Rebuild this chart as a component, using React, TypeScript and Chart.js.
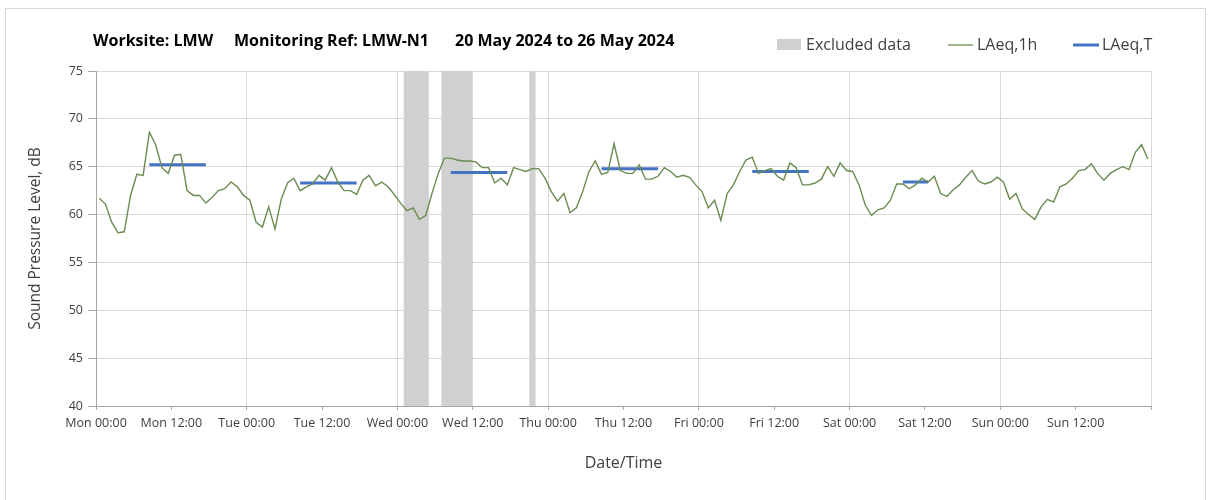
import React, { useEffect, useRef } from "react";
import { Chart, registerables } from "chart.js";

Chart.register(...registerables);

const FONT = "'Open Sans', sans-serif";
const GREEN = "#6a8b52";
const BLUE = "#4472C4";
const BAND = "#d0d0d0";
const TEXT = "#404040";

const titleParts = ["Worksite: LMW", "Monitoring Ref: LMW-N1", "20 May 2024 to 26 May 2024"];

const xTickLabels = [
  "Mon 00:00", "Mon 12:00", "Tue 00:00", "Tue 12:00", "Wed 00:00", "Wed 12:00",
  "Thu 00:00", "Thu 12:00", "Fri 00:00", "Fri 12:00", "Sat 00:00", "Sat 12:00",
  "Sun 00:00", "Sun 12:00", "",
];

// Hourly LAeq,1h (hour index 0 = Mon 00:00-01:00)
const laeq1hMon = [61.7, 61.1, 59.2, 58.1, 58.2, 62.0, 64.2, 64.1, 68.6, 67.3, 64.9, 64.3, 66.2, 66.3, 62.5, 62.0, 62.0, 61.2, 61.8, 62.5, 62.7, 63.4, 62.9, 62.0];
const laeq1hTue = [61.5, 59.2, 58.7, 60.8, 58.5, 61.6, 63.3, 63.8, 62.5, 62.9, 63.2, 64.1, 63.6, 64.9, 63.4, 62.5, 62.5, 62.1, 63.6, 64.1, 63.0, 63.4, 62.9, 62.1];
const laeq1hWed = [61.2, 60.4, 60.7, 59.5, 59.9, 62.2, 64.3, 65.9, 65.9, 65.7, 65.6, 65.6, 65.5, 64.9, 64.9, 63.3, 63.8, 63.1, 64.9, 64.7, 64.5, 64.8, 64.8, 63.8];
const laeq1hThu = [62.4, 61.4, 62.2, 60.2, 60.7, 62.4, 64.5, 65.6, 64.2, 64.4, 67.4, 64.6, 64.3, 64.3, 65.2, 63.7, 63.7, 64.0, 64.9, 64.5, 63.9, 64.1, 63.9, 63.1];
const laeq1hFri = [62.4, 60.7, 61.5, 59.4, 62.2, 63.1, 64.5, 65.7, 66.0, 64.3, 64.6, 64.8, 64.0, 63.6, 65.4, 64.9, 63.1, 63.1, 63.3, 63.7, 65.0, 64.0, 65.4, 64.6];
const laeq1hSat = [64.5, 63.1, 61.0, 59.9, 60.5, 60.7, 61.5, 63.2, 63.2, 62.7, 63.1, 63.8, 63.4, 64.0, 62.2, 61.9, 62.6, 63.1, 63.9, 64.6, 63.5, 63.2, 63.4, 63.9];
const laeq1hSun = [63.4, 61.6, 62.2, 60.6, 60.0, 59.5, 60.8, 61.6, 61.3, 62.9, 63.2, 63.8, 64.6, 64.7, 65.3, 64.3, 63.6, 64.3, 64.7, 65.0, 64.7, 66.5, 67.3, 65.8];
const laeq1h = [...laeq1hMon, ...laeq1hTue, ...laeq1hWed, ...laeq1hThu, ...laeq1hFri, ...laeq1hSat, ...laeq1hSun];

// LAeq,T daytime periods (first hour, last hour, level)
const laeqTStart = [8, 32, 56, 80, 104, 128];
const laeqTEnd = [17, 41, 65, 89, 113, 132];
const laeqTValue = [65.2, 63.3, 64.4, 64.8, 64.5, 63.4];

// Excluded data periods (hours from Mon 00:00)
const excludedStart = [49, 55, 69];
const excludedEnd = [53, 60, 70];

const bandsPlugin = {
  id: "bands",
  beforeDatasetsDraw(chart: any) {
    const { ctx, chartArea, scales } = chart;
    const x = scales.x;
    ctx.save();
    ctx.fillStyle = BAND;
    excludedStart.forEach((s, i) => {
      const x0 = x.getPixelForValue(s);
      const x1 = x.getPixelForValue(excludedEnd[i]);
      ctx.fillRect(x0, chartArea.top, x1 - x0, chartArea.bottom - chartArea.top);
    });
    ctx.restore();
  },
};

const headerPlugin = {
  id: "header",
  afterDraw(chart: any) {
    const ctx = chart.ctx;
    ctx.save();
    ctx.textBaseline = "middle";
    ctx.textAlign = "left";
    // title
    ctx.fillStyle = "#000";
    ctx.font = `bold 16px ${FONT}`;
    const titleX = [93, 234, 455];
    titleParts.forEach((t, i) => ctx.fillText(t, titleX[i], 41));
    // legend
    const ly = 45;
    ctx.font = `16px ${FONT}`;
    ctx.fillStyle = BAND;
    ctx.fillRect(777, 39, 24, 11);
    ctx.fillStyle = TEXT;
    ctx.fillText("Excluded data", 806, ly);
    ctx.strokeStyle = GREEN;
    ctx.lineWidth = 1.3;
    ctx.beginPath();
    ctx.moveTo(948, ly);
    ctx.lineTo(973, ly);
    ctx.stroke();
    ctx.fillText(chart.data.datasets[0].label, 977, ly);
    ctx.strokeStyle = BLUE;
    ctx.lineWidth = 3;
    ctx.beginPath();
    ctx.moveTo(1073, ly);
    ctx.lineTo(1099, ly);
    ctx.stroke();
    ctx.fillText(chart.data.datasets[1].label, 1102, ly);
    ctx.restore();
  },
};

export default function App() {
  const ref = useRef<HTMLCanvasElement>(null);
  useEffect(() => {
    const canvas = ref.current!;
    const lineData = laeq1h.map((v, i) => ({ x: i + 0.5, y: v }));
    const tData: any[] = [];
    laeqTStart.forEach((s, i) => {
      tData.push({ x: s + 0.5, y: laeqTValue[i] });
      tData.push({ x: laeqTEnd[i] + 0.5, y: laeqTValue[i] });
      tData.push({ x: laeqTEnd[i] + 1, y: null });
    });
    const chart = new Chart(canvas, {
      type: "line",
      data: {
        datasets: [
          { label: "LAeq,1h", data: lineData, borderColor: GREEN, borderWidth: 1.4, pointRadius: 0, tension: 0 },
          { label: "LAeq,T", data: tData, borderColor: BLUE, borderWidth: 3, pointRadius: 0, spanGaps: false },
        ],
      },
      options: {
        responsive: false,
        animation: false,
        layout: { padding: { left: 10, right: 57, top: 71, bottom: 0 } },
        plugins: { legend: { display: false }, tooltip: { enabled: false } },
        scales: {
          x: {
            type: "linear",
            min: 0,
            max: 168,
            ticks: {
              stepSize: 12,
              autoSkip: false,
              maxRotation: 0,
              minRotation: 0,
              padding: 6,
              color: TEXT,
              font: { family: FONT, size: 12.5 },
              callback: (v: any) => xTickLabels[Math.round(Number(v) / 12)] ?? "",
            },
            grid: {
              color: (c: any) => (c.tick && c.tick.value % 24 === 0 ? "#d9d9d9" : "rgba(0,0,0,0)"),
              tickColor: "#a6a6a6",
              tickLength: 4,
            },
            border: { color: "#a6a6a6" },
            title: {
              display: true,
              text: "Date/Time",
              color: TEXT,
              font: { family: FONT, size: 16 },
              padding: { top: 0, bottom: 27 },
            },
            afterFit: (s: any) => {
              s.height = 94;
            },
          },
          y: {
            min: 40,
            max: 75,
            ticks: { stepSize: 5, padding: 5, color: TEXT, font: { family: FONT, size: 12.5 } },
            grid: { color: "#d9d9d9", tickColor: "#a6a6a6", tickLength: 8 },
            border: { color: "#a6a6a6" },
            title: {
              display: true,
              text: "Sound Pressure Level, dB",
              color: TEXT,
              font: { family: FONT, size: 15.5 },
              padding: { top: 16, bottom: 0 },
            },
            afterFit: (s: any) => {
              s.width = 86;
            },
          },
        },
      } as any,
      plugins: [bandsPlugin, headerPlugin],
    });
    return () => chart.destroy();
  }, []);
  return (
    <div style={{ position: "absolute", left: 0, top: 0, width: 1208, height: 500, overflow: "hidden", background: "#fff" }}>
      <div
        style={{
          position: "absolute",
          left: 5,
          top: 8,
          width: 1201,
          height: 520,
          border: "1px solid #d9d9d9",
          boxSizing: "border-box",
        }}
      />
      <canvas ref={ref} width={1208} height={500} style={{ position: "absolute", left: 0, top: 0 }} />
    </div>
  );
}
